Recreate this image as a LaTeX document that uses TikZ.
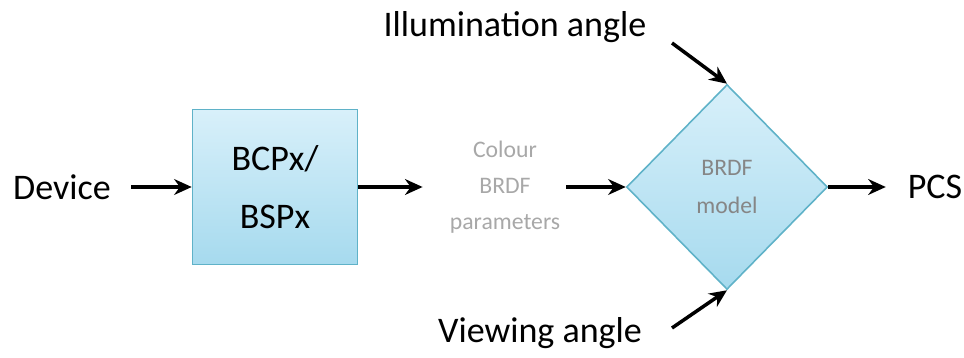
\documentclass[tikz,border=0pt]{standalone}
\usepackage{fontspec}
\setmainfont{Carlito}
\usetikzlibrary{arrows.meta,shapes.geometric}

\definecolor{boxtop}{HTML}{D8F0FA}
\definecolor{boxbot}{HTML}{A6DAEE}
\definecolor{boxline}{HTML}{5FB2C8}
\definecolor{softgray}{HTML}{A8A8A8}

\tikzset{
  flow/.style={-{Stealth[length=10pt,width=9pt]}, line width=2pt},
  label/.style={font=\fontsize{20.5}{24}\selectfont},
  block/.style={draw=boxline, line width=0.9pt, top color=boxtop, bottom color=boxbot},
}

\begin{document}
\begin{tikzpicture}[x=0.02cm, y=-0.02cm]

\useasboundingbox (0,0) rectangle (964,358);

% Input and converter
\node[label] (device) at (62,187) {Device};
\node[block, minimum width=3.3cm, minimum height=3.1cm, align=center,
      font=\fontsize{20.5}{33}\selectfont] (bcp) at (275,187) {BCPx/\\BSPx};

% Intermediate parameters
\node[align=center, text=softgray, font=\fontsize{13.5}{20.5}\selectfont] (params) at (505,187)
  {Colour\\BRDF\\parameters};

% BRDF model
\node[block, shape=diamond, inner sep=0pt, minimum width=4.02cm, minimum height=4.1cm,
      align=center, text=softgray!80!black, font=\fontsize{13.5}{21.5}\selectfont] (model) at (727,187)
  {BRDF\\model};

% Output
\node[label] (pcs) at (935,187) {PCS};

% Angles
\node[label] (illum) at (515,27) {Illumination angle};
\node[label] (view) at (540,333) {Viewing angle};
\coordinate (illumstart) at (672,43);
\coordinate (viewstart) at (672,328);

% Arrows
\draw[flow, shorten <=8pt] (device.east) -- (bcp.west);
\draw[flow, shorten >=12pt] (bcp.east) -- (params.west);
\draw[flow] (params.east) -- (model.west);
\draw[flow, shorten >=9pt] (model.east) -- (pcs.west);
\draw[flow] (illumstart) -- (model.north);
\draw[flow] (viewstart) -- (model.south);

\end{tikzpicture}
\end{document}
